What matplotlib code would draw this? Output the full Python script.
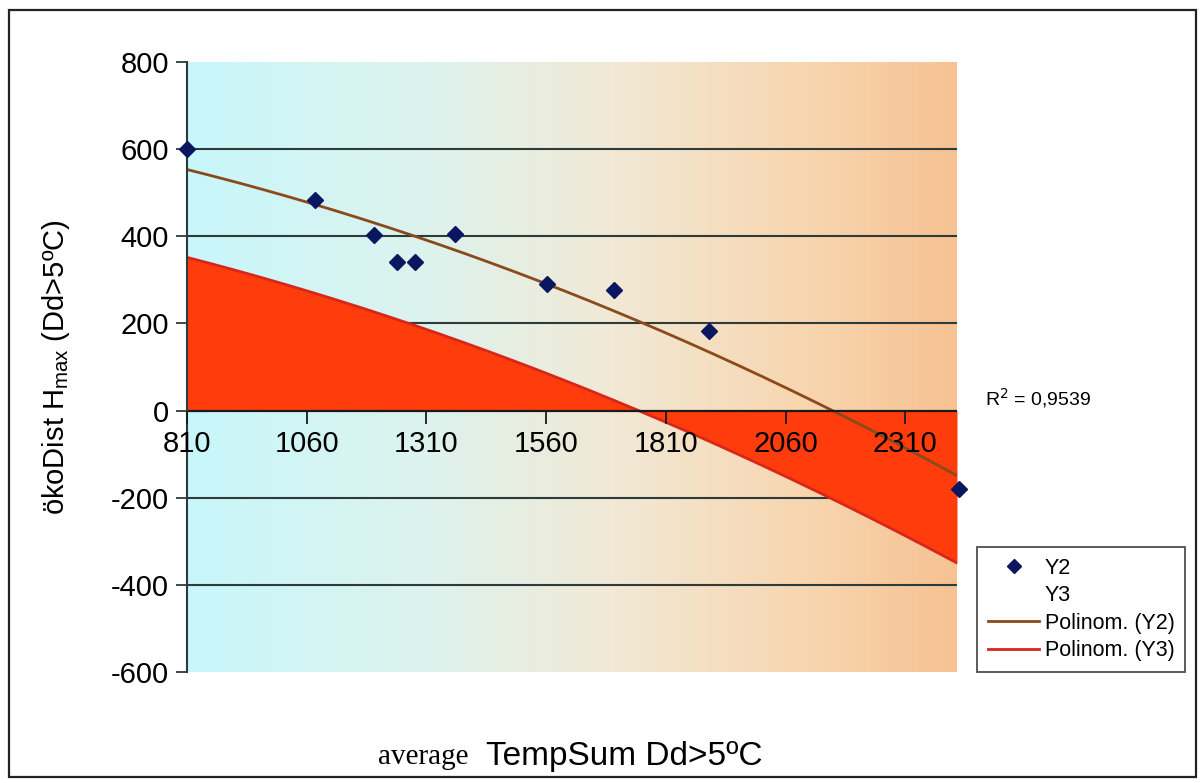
"""
Excel-style scatter: oekoDist Hmax vs. average TempSum, with polynomial trendlines
"""

import numpy as np
import matplotlib
matplotlib.use("Agg")
import matplotlib.pyplot as plt
from matplotlib.colors import LinearSegmentedColormap
from matplotlib.lines import Line2D
from matplotlib.patches import Rectangle

plt.rcParams["axes.unicode_minus"] = False

# data
tempsum = [810, 1077, 1201, 1248, 1286, 1369, 1562, 1701, 1900, 2423]
y2 = [600, 484, 402, 341, 341, 405, 291, 276, 182, -181]
# Y3 has no markers, only its trendline is visible; values read from that curve
y3 = [352, 269, 226, 209, 195, 164, 85, 24, -70, -353]

x_ticks = [810, 1060, 1310, 1560, 1810, 2060, 2310]
y_ticks = [-600, -400, -200, 0, 200, 400, 600, 800]
grid_levels = [-400, -200, 200, 400, 600]
r2_label = "R$^2$ = 0,9539"

W, H = 1201, 783
fig = plt.figure(figsize=(W / 100, H / 100), dpi=100)
fig.patch.set_facecolor("white")

# outer chart border
fig.patches.append(Rectangle((9 / W, 1 - 777 / H), (1196 - 9) / W, (777 - 10) / H,
                             transform=fig.transFigure, fill=False,
                             edgecolor="#222222", lw=1.6, zorder=10))

ax = fig.add_axes([187 / W, 1 - 672 / H, (957 - 187) / W, (672 - 62) / H])
xmin, xmax = 810, 2418
ymin, ymax = -600, 800
ax.set_xlim(xmin, xmax)
ax.set_ylim(ymin, ymax)

# cyan -> beige -> peach gradient background
grad_cmap = LinearSegmentedColormap.from_list(
    "bg", [(0.0, "#c8f7fb"), (0.3, "#dcf3ee"), (0.55, "#f1e9d6"),
           (0.8, "#f8d6b0"), (1.0, "#f6c292")])
ax.imshow(np.linspace(0, 1, 256).reshape(1, -1), cmap=grad_cmap, aspect="auto",
          extent=[xmin, xmax, ymin, ymax], zorder=0)

for g in grid_levels:
    ax.axhline(g, color="#2d3b3b", lw=1.5, zorder=1)

# polynomial trendlines (order 2, like Excel)
xs = np.linspace(xmin, xmax, 400)
p2 = np.polyfit(tempsum, y2, 2)
p3 = np.polyfit(tempsum, y3, 2)
t2 = np.polyval(p2, xs)
t3 = np.polyval(p3, xs)

ax.fill_between(xs, t3, 0, color="#ff3c0c", lw=0, zorder=2)
ax.plot(xs, t3, color="#d8261a", lw=2, zorder=3)
ax.plot(xs, t2, color="#8a4a1c", lw=2, zorder=4)
ax.axhline(0, color="#1a1a1a", lw=1.6, zorder=5)

ax.plot(tempsum, y2, linestyle="none", marker="D", ms=8, color="#0b1660",
        zorder=9, clip_on=False)

# axes styling
for s in ["top", "right"]:
    ax.spines[s].set_visible(False)
ax.spines["left"].set_color("#2d3b3b")
ax.spines["left"].set_linewidth(1.5)
ax.spines["left"].set_zorder(6)
ax.spines["bottom"].set_position(("data", 0))
ax.spines["bottom"].set_visible(False)

ax.set_yticks(y_ticks)
ax.set_xticks(x_ticks)
ax.tick_params(axis="y", direction="out", length=8, width=1.3, color="#2d3b3b",
               labelsize=21, pad=5)
ax.tick_params(axis="x", direction="out", length=9, width=1.3, color="#1a1a1a",
               labelsize=21, pad=5)
for lab in ax.get_xticklabels() + ax.get_yticklabels():
    lab.set_fontfamily("Liberation Sans")
# x tick labels sit on top of the red fill
ax.xaxis.set_zorder(8)

ax.set_ylabel("ökoDist H$\\mathregular{_{max}}$ (Dd>5ºC)", fontsize=21,
              fontfamily="Liberation Sans", labelpad=28)

fig.text(378 / W, 1 - 757 / H, "average", fontsize=21, fontfamily="Liberation Serif",
         va="center", ha="left")
fig.text(486 / W, 1 - 757 / H, "TempSum Dd>5ºC", fontsize=24,
         fontfamily="Liberation Sans", va="center", ha="left")

fig.text(985 / W, 1 - 398 / H, r2_label, fontsize=14, fontfamily="Liberation Sans",
         va="center", ha="left")

handles = [
    Line2D([], [], linestyle="none", marker="D", ms=7, color="#0b1660"),
    Line2D([], [], linestyle="none"),
    Line2D([], [], color="#8a4a1c", lw=2),
    Line2D([], [], color="#d8261a", lw=2),
]
labels = ["Y2", "Y3", "Polinom. (Y2)", "Polinom. (Y3)"]
leg = fig.legend(handles, labels, loc="upper left",
                 bbox_to_anchor=(977 / W, 1 - 547 / H), bbox_transform=fig.transFigure,
                 borderaxespad=0, frameon=True, fancybox=False, handlelength=2.4,
                 handletextpad=0.25, labelspacing=0.3, borderpad=0.5,
                 prop={"family": "Liberation Sans", "size": 15.5})
leg.get_frame().set_edgecolor("#222222")
leg.get_frame().set_linewidth(1.3)

fig.savefig("out.png", dpi=100)
